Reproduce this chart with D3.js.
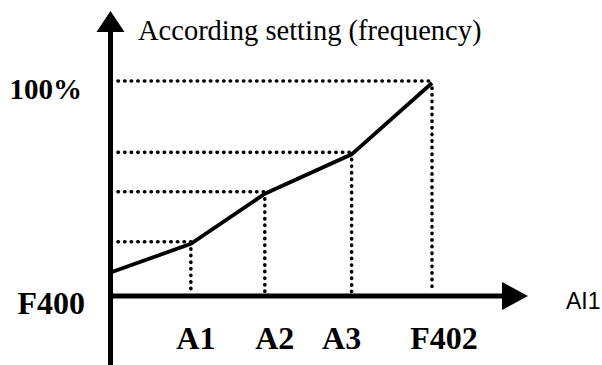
<!DOCTYPE html>
<html><head><meta charset="utf-8">
<script src="https://cdn.jsdelivr.net/npm/d3@7"></script>
<style>html,body{margin:0;padding:0;background:#fff;}svg{display:block;}</style>
</head><body>
<script>
// Data
const pointNames = ["start", "A1", "A2", "A3", "F402"];
const xValues = [0, 25, 48, 75, 100];
const yValues = [11, 24.5, 48, 66.5, 100];
const xTickLabels = ["A1", "A2", "A3", "F402"];
const yTickLabels = ["F400", "100%"];
const yTickValues = [0, 100];
const yTitle = "According setting (frequency)";
const xTitle = "AI1";

const W = 602, H = 365;
const svg = d3.select("body").append("svg").attr("width", W).attr("height", H);

const x = d3.scaleLinear().domain([0, 100]).range([110.5, 432]);
const y = d3.scaleLinear().domain([0, 100]).range([296, 83]);

const pts = xValues.map((v, i) => ({name: pointNames[i], x: v, y: yValues[i]}));
const inner = pts.slice(1);

// dotted guides
const dot = {stroke: "#000", "stroke-width": 3.6, "stroke-linecap": "round", "stroke-dasharray": "0.4 6.2", fill: "none"};
const g = svg.append("g");
inner.forEach(p => {
  const h = g.append("line").attr("x1", 118).attr("x2", x(p.x)).attr("y1", y(p.y) - 2).attr("y2", y(p.y) - 2);
  const v = g.append("line").attr("x1", x(p.x)).attr("x2", x(p.x)).attr("y1", y(p.y) + 5).attr("y2", y(0) - 4);
  [h, v].forEach(l => Object.entries(dot).forEach(([k, val]) => l.attr(k, val)));
});

// axes
svg.append("line").attr("x1", x(0)).attr("x2", x(0)).attr("y1", 30).attr("y2", H)
  .attr("stroke", "#000").attr("stroke-width", 5);
svg.append("path").attr("d", `M${x(0)},11 L${x(0)-14},32 L${x(0)+14},32 Z`).attr("fill", "#000");
svg.append("line").attr("x1", x(0) - 2).attr("x2", 504).attr("y1", y(0)).attr("y2", y(0))
  .attr("stroke", "#000").attr("stroke-width", 5);
svg.append("path").attr("d", `M528,${y(0)} L502,${y(0)-14} L502,${y(0)+14} Z`).attr("fill", "#000");

// curve
svg.append("path").datum(pts)
  .attr("d", d3.line().x(d => x(d.x)).y(d => y(d.y)))
  .attr("fill", "none").attr("stroke", "#000").attr("stroke-width", 3.8).attr("stroke-linejoin", "miter");

// labels
const serif = "'Liberation Serif','Times New Roman',serif";
const labelDx = [5, 10, -10, 12];
svg.selectAll("text.xl").data(xTickLabels).enter().append("text")
  .attr("x", (d, i) => x(xValues[i + 1]) + labelDx[i]).attr("y", 349)
  .attr("text-anchor", "middle").attr("font-family", serif).attr("font-weight", "bold")
  .attr("font-size", 32).text(d => d);

svg.selectAll("text.yl").data(yTickLabels).enter().append("text")
  .attr("x", (d, i) => i === 0 ? 85 : 82).attr("y", (d, i) => y(yTickValues[i]) + (i === 0 ? 18 : 16))
  .attr("text-anchor", "end").attr("font-family", serif).attr("font-weight", "bold")
  .attr("font-size", (d, i) => i === 0 ? 32 : 29).text(d => d);

svg.append("text").attr("x", 138).attr("y", 40).attr("font-family", serif)
  .attr("font-size", 28.5).text(yTitle);
svg.append("text").attr("x", 566).attr("y", 309).attr("font-family", "'Liberation Sans',Arial,sans-serif")
  .attr("font-size", 23).text(xTitle);
</script>
</body></html>
